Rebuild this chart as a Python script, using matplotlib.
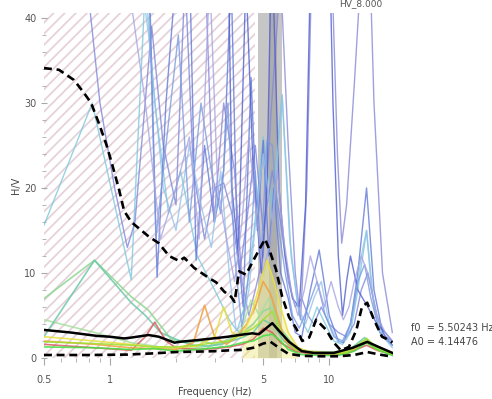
import matplotlib
matplotlib.use('Agg')
import matplotlib.pyplot as plt
from matplotlib.ticker import FixedLocator, FixedFormatter, MultipleLocator

plt.rcParams['hatch.linewidth'] = 1.3

# curvas estatisticas (media e media*/desvio)
upper_f = [0.5, 0.585, 0.685, 0.76, 0.82, 0.89, 0.96, 1.02, 1.1, 1.16, 1.25, 1.5, 1.67, 1.86,
           2.07, 2.18, 2.42, 2.83, 3.05, 3.32, 3.57, 3.7, 3.88, 4.17, 4.45, 4.78, 5.1, 5.32,
           5.72, 6.1, 6.56, 7.06, 7.53, 8.1, 8.72, 9.69, 10.5, 11.3, 12.3, 13.3, 14.1, 14.9,
           16.0, 17.4, 18.8, 19.4]
upper_hv = [34.1, 33.9, 32.7, 31.2, 30.0, 27.6, 25.2, 22.9, 19.8, 17.3, 16.0, 14.3, 13.5, 12.0,
            11.4, 11.8, 10.6, 9.4, 8.9, 7.8, 7.2, 6.6, 10.2, 9.8, 11.2, 12.7, 14.0, 12.8,
            10.4, 7.2, 4.8, 3.5, 2.0, 2.4, 4.5, 3.3, 1.8, 0.9, 1.3, 3.3, 6.0, 6.5,
            4.5, 2.5, 2.1, 1.8]

mean_f = [0.5, 0.66, 0.87, 1.0, 1.16, 1.25, 1.5, 1.67, 1.97, 2.07, 2.5, 2.95, 3.45, 3.88,
          4.45, 4.78, 5.1, 5.5, 5.9, 6.56, 7.5, 8.5, 10.5, 12.8, 14.9, 16.8, 19.4]
mean_hv = [3.3, 3.0, 2.6, 2.5, 2.3, 2.4, 2.7, 2.5, 1.8, 1.9, 2.1, 2.3, 2.5, 2.7,
           2.9, 2.8, 3.4, 4.1, 3.2, 1.9, 0.8, 0.6, 0.6, 1.2, 1.9, 1.3, 0.6]

lower_f = [0.5, 0.8, 1.2, 1.6, 2.0, 2.5, 3.0, 3.5, 4.0, 4.5, 5.0, 5.4, 5.9, 6.5, 7.5, 9.0,
           11, 13, 14.9, 17, 19.4]
lower_hv = [0.35, 0.35, 0.4, 0.55, 0.7, 0.75, 0.8, 0.9, 0.95, 1.2, 1.7, 1.9, 1.2, 0.5, 0.25,
            0.2, 0.2, 0.35, 0.7, 0.4, 0.15]

# janelas individuais - amplitudes altas
w1_f = [0.5, 0.83, 1.25, 1.45, 1.6, 1.85, 2.1, 2.5, 3.0, 3.5, 3.8, 4.1, 4.5, 5.0, 5.5, 6.1,
        6.7, 7.3, 8.0, 8.8, 9.6, 10.5, 11.5, 12.5, 13.5, 14.8, 16.0, 17.5, 19.4]
w1_hv = [15.6, 30, 9.2, 44, 30, 17, 22, 12, 8, 4.5, 3.2, 6, 14, 26, 18, 31,
         12, 5, 3, 6, 4, 2, 1.6, 3, 8, 15, 6, 2.5, 1.5]

w2_f = [0.5, 0.78, 0.9, 1.05, 1.2, 1.3, 1.55, 1.75, 2.0, 2.2, 2.4, 2.7, 3.0, 3.3, 3.6, 3.9,
        4.2, 4.6, 5.0, 5.5, 6.0, 6.5, 7.0, 7.5, 8.0, 8.5, 9.2, 10.0, 11.0, 12.0, 13.0, 14.0,
        15.0, 16.5, 18.0, 19.4]
w2_hv = [70, 45, 30, 20, 13, 16, 39, 25, 18, 45, 22, 14, 20, 20.6, 17, 10,
         16, 25, 15, 22, 16, 9, 6, 7, 5, 4, 6, 4, 3, 2.5, 4, 8,
         10, 5, 2.5, 2]

w3_f = [0.5, 1.1, 1.5, 1.64, 1.8, 2.0, 2.3, 2.47, 2.7, 3.0, 3.3, 3.57, 3.8, 4.05, 4.4, 4.7,
        5.0, 5.3, 5.6, 6.0, 6.5, 7.0, 7.5, 8.2, 9.0, 10.0, 11.0, 11.6, 12.5, 13.5, 14.8, 16.0,
        17.5, 19.4]
w3_hv = [80, 60, 48, 9.5, 30, 45, 48, 11.5, 25, 16, 22, 45, 14, 6, 33, 15,
         25.6, 12, 20, 10, 7, 3, 2.5, 8, 12.7, 5, 2, 1.8, 4, 10, 20, 8,
         3, 1.5]

w4_f = [0.5, 2.5, 2.75, 2.98, 3.3, 3.7, 4.0, 4.3, 4.6, 5.0, 5.4, 6.0, 6.5, 7.0, 7.4, 7.9,
        8.3, 9.5, 10.3, 10.9, 11.4, 12.0, 13.0, 14.0, 15.0, 16.0, 17.5, 19.4]
w4_hv = [90, 70, 42, 16, 30, 22, 9, 5, 8, 12, 28, 45, 25, 10, 4.5, 20,
         45, 60, 45, 24, 13.5, 18, 32, 46, 55, 30, 10, 3]

w5_f = [0.5, 3.4, 3.6, 3.85, 4.17, 4.5, 4.9, 5.2, 5.45, 5.6, 5.9, 6.3, 6.8, 7.3, 7.8, 8.2,
        9.0, 10.0, 10.4, 11.0, 11.5, 12.0, 12.5, 13.5, 15.0, 16.5, 18.0, 19.4]
w5_hv = [85, 60, 20, 12, 45, 22, 10, 20, 48, 40, 20, 12, 7, 6, 18, 45,
         60, 50, 30, 12, 5, 9, 12, 8, 6, 4, 3, 2]

w6_f = [0.5, 1.3, 1.5, 1.75, 2.0, 2.3, 2.6, 2.9, 3.2, 3.5, 3.75, 3.95, 4.3, 4.7, 5.0, 5.5,
        6.1, 6.6, 7.2, 7.8, 8.5, 9.2, 10.0, 11.0, 12.0, 13.0, 14.0, 14.8, 15.6, 17.0, 19.4]
w6_hv = [70, 50, 38, 20, 15, 25, 18, 13, 22, 10, 3.5, 2.8, 8, 18, 24, 16,
         30.7, 14, 6, 4, 7, 9, 4, 1.8, 2.2, 6, 12, 15, 8, 3, 1.2]

w7_f = [0.5, 1.0, 1.5, 1.62, 1.8, 2.05, 2.3, 2.6, 2.9, 3.2, 3.45, 3.7, 4.0, 4.3, 4.6, 4.9,
        5.2, 5.5, 5.9, 6.3, 6.8, 7.3, 8.0, 8.8, 9.6, 10.5, 11.5, 12.5, 13.5, 14.5, 15.5,
        17.0, 19.4]
w7_hv = [75, 55, 45, 14, 25, 38, 16, 30, 22, 17, 30, 12, 3.5, 10, 22, 12,
         25.6, 25, 15, 10, 5, 3.5, 6, 9, 5, 2.5, 2, 4, 9, 11, 7,
         3, 1.5]

w8_f = [0.5, 1.2, 1.45, 1.7, 2.0, 2.3, 2.55, 2.85, 3.1, 3.4, 3.7, 4.0, 4.3, 4.6, 5.0, 5.4,
        5.8, 6.2, 6.7, 7.2, 7.7, 8.2, 8.8, 9.5, 10.2, 11.0, 11.6, 12.3, 13.0, 14.0, 15.0,
        16.5, 18.0, 19.4]
w8_hv = [60, 45, 30, 14, 20, 26, 14, 45, 20, 14, 9, 16, 26, 18, 10, 14,
         22, 14, 8, 5, 8, 12, 9, 6, 9, 6, 4.5, 6, 9, 12, 10,
         5, 3, 2]

# janelas individuais - amplitudes baixas
l1_f = [0.5, 0.85, 1.25, 1.5, 1.9, 2.2, 2.6, 3.0, 3.5, 4.0, 4.5, 5.0, 5.5, 6.0, 7.0, 8.0,
        10, 12, 14, 15, 16.5, 19.4]
l1_hv = [7, 11.5, 7.2, 5.6, 2.2, 1.8, 2.0, 1.6, 2.2, 3, 4, 5.5, 6, 3.5, 1.2, 0.8,
         0.7, 0.8, 1.6, 2.0, 1.2, 0.6]
l2_f = [0.5, 0.85, 1.25, 1.6, 2.0, 2.5, 3.0, 3.5, 4.0, 4.4, 4.8, 5.3, 5.8, 6.5, 7.5, 9,
        11, 13, 14.8, 16.5, 19.4]
l2_hv = [4.5, 3.0, 1.8, 1.4, 1.0, 1.2, 1.5, 2.0, 3.5, 6.8, 5, 7, 4, 1.5, 0.8, 0.6,
         0.5, 1.0, 2.2, 1.2, 0.5]
l3_f = [0.5, 0.85, 1.25, 1.45, 1.7, 2.0, 2.4, 2.8, 3.2, 3.6, 4.0, 4.5, 5.0, 5.6, 6.2, 7.0,
        8.0, 10, 12, 14.5, 16, 19.4]
l3_hv = [2.5, 11.5, 6.5, 5.0, 3.0, 2.2, 1.5, 1.4, 1.6, 2.0, 2.4, 3.0, 4.5, 3.8, 2, 1,
         0.7, 0.6, 0.7, 2.4, 1.4, 0.5]
l4_f = [0.5, 0.85, 1.25, 1.45, 1.6, 1.8, 2.0, 2.5, 3.0, 3.5, 4.0, 4.5, 5.0, 5.5, 6.0, 7,
        8, 10, 12, 14.8, 16.5, 19.4]
l4_hv = [1.6, 1.2, 0.9, 2.5, 4.2, 2.0, 1.2, 1.0, 1.1, 1.3, 1.6, 2.2, 3.5, 3.0, 1.8, 0.8,
         0.5, 0.4, 0.5, 1.5, 0.9, 0.4]
l5_f = [0.5, 0.85, 1.25, 1.6, 2.0, 2.4, 2.7, 3.0, 3.4, 3.8, 4.2, 4.6, 5.0, 5.4, 5.8, 6.3,
        7.0, 8.0, 10, 12, 14.8, 16.5, 19.4]
l5_hv = [2.0, 1.6, 1.2, 1.1, 1.0, 1.8, 6.2, 2.5, 1.6, 2.5, 4.0, 6.0, 9.0, 7.5, 5.0, 2.0,
         1.0, 0.6, 0.5, 0.6, 1.8, 1.0, 0.4]
l6_f = [0.5, 0.85, 1.25, 1.6, 2.0, 2.5, 3.0, 3.3, 3.6, 4.0, 4.4, 4.8, 5.2, 5.6, 6.0, 6.5,
        7.2, 8.0, 10, 12, 14.8, 16.5, 19.4]
l6_hv = [2.5, 2.0, 1.6, 1.3, 1.2, 1.4, 2.5, 6.0, 3.0, 2.5, 5.0, 8.5, 11.5, 9.0, 6.0, 3.0,
         1.2, 0.8, 0.6, 0.7, 2.0, 1.0, 0.4]
l7_f = [0.5, 0.85, 1.25, 1.6, 2.0, 2.5, 3.0, 3.5, 4.0, 4.5, 5.0, 5.5, 6.0, 6.5, 7.5, 9,
        11, 13, 14.8, 16.5, 19.4]
l7_hv = [1.3, 1.2, 1.0, 1.1, 0.8, 1.0, 1.2, 1.4, 1.8, 2.0, 2.6, 2.8, 2.0, 1.0, 0.4, 0.3,
         0.3, 0.8, 1.8, 1.0, 0.3]
l8_f = [0.5, 0.85, 1.25, 1.6, 2.0, 2.5, 3.0, 3.5, 4.0, 4.5, 5.0, 5.5, 6.0, 7.0, 8.5, 10,
        12, 14.8, 16.5, 19.4]
l8_hv = [1.9, 1.7, 1.5, 1.3, 1.3, 1.5, 1.8, 2.0, 2.8, 3.5, 4.5, 5.5, 3.0, 1.0, 0.6, 0.5,
         0.6, 2.3, 1.2, 0.5]

f0 = 5.50243
A0 = 4.14476
f0_min, f0_max = 4.74, 6.1
hatch_max = 4.6

fig = plt.figure(figsize=(4.92, 3.99), dpi=100)
ax = fig.add_axes([0.0894, 0.1028, 0.709, 0.865])

# area hachurada e faixa de f0
ax.axvspan(0.5, hatch_max, facecolor='none', edgecolor='#e6d2d9', hatch='///', lw=0, zorder=0)
ax.axvspan(f0_min, f0_max, color='#c6c6c6', lw=0, zorder=0.5)
ax.axvspan(5.3, 5.75, color='#adadad', lw=0, zorder=0.6)

# sombra amarela do pico (trecho 4-7 Hz da janela l6)
ax.fill_between(l6_f[9:17], l6_hv[9:17], color='#eee880', alpha=0.45, lw=0, zorder=1)

altas = [(w1_f, w1_hv, '#7cc8dc'), (w2_f, w2_hv, '#7f86da'), (w3_f, w3_hv, '#5f78d8'),
         (w4_f, w4_hv, '#8a88d8'), (w5_f, w5_hv, '#4e5ecf'), (w6_f, w6_hv, '#94c2ea'),
         (w7_f, w7_hv, '#7a9ae0'), (w8_f, w8_hv, '#a6a4e2')]
for f, hv, c in altas:
    ax.plot(f, hv, color=c, lw=1.0, alpha=0.8, zorder=2)

baixas = [(l1_f, l1_hv, '#8ad890'), (l2_f, l2_hv, '#a8e0a0'), (l3_f, l3_hv, '#6cc8a8'),
          (l4_f, l4_hv, '#d86060'), (l5_f, l5_hv, '#f0a040'), (l6_f, l6_hv, '#e8e040'),
          (l7_f, l7_hv, '#40e040'), (l8_f, l8_hv, '#a0e030')]
for f, hv, c in baixas:
    ax.plot(f, hv, color=c, lw=1.2, alpha=0.85, zorder=2)

ax.plot(mean_f, mean_hv, color='black', lw=1.8, zorder=4)
ax.plot(upper_f, upper_hv, color='black', lw=1.9, dashes=(3, 1.8), zorder=4)
ax.plot(lower_f, lower_hv, color='black', lw=1.9, dashes=(3, 1.8), zorder=4)

ax.set_xscale('log')
ax.set_xlim(0.5, 19.5)
ax.set_ylim(0, 40.6)

ax.xaxis.set_major_locator(FixedLocator([0.5, 1, 5, 10]))
ax.xaxis.set_major_formatter(FixedFormatter(['0.5', '1', '5', '10']))
ax.xaxis.set_minor_locator(FixedLocator([0.6, 0.7, 0.8, 0.9, 2, 3, 4, 6, 7, 8, 9]))
ax.xaxis.set_minor_formatter(FixedFormatter([]))
ax.yaxis.set_major_locator(MultipleLocator(10))
ax.yaxis.set_minor_locator(MultipleLocator(2))

for s in ax.spines.values():
    s.set_visible(False)
ax.tick_params(which='both', colors='#a8a8a8', labelcolor='#555555', labelsize=7)
ax.tick_params(axis='x', which='major', length=5, pad=7)
ax.tick_params(axis='x', which='minor', length=3)
ax.tick_params(axis='y', which='major', length=5, direction='inout', pad=3)
ax.tick_params(axis='y', which='minor', length=3, direction='inout')

ax.set_xlabel('Frequency (Hz)', fontsize=7, color='#444444')
ax.set_ylabel('H/V', fontsize=7, color='#444444')
ax.yaxis.set_label_coords(-0.065, 0.5)
ax.xaxis.set_label_coords(0.49, -0.085)

fig.text(0.835, 0.178, f'f0  = {f0} Hz', fontsize=7, color='#444444', va='center')
fig.text(0.835, 0.143, f'A0 = {A0}', fontsize=7, color='#444444', va='center')
fig.text(0.69, 0.992, 'HV_8.000', fontsize=6.5, color='#555555', va='center')

fig.savefig('out.png', dpi=100)
